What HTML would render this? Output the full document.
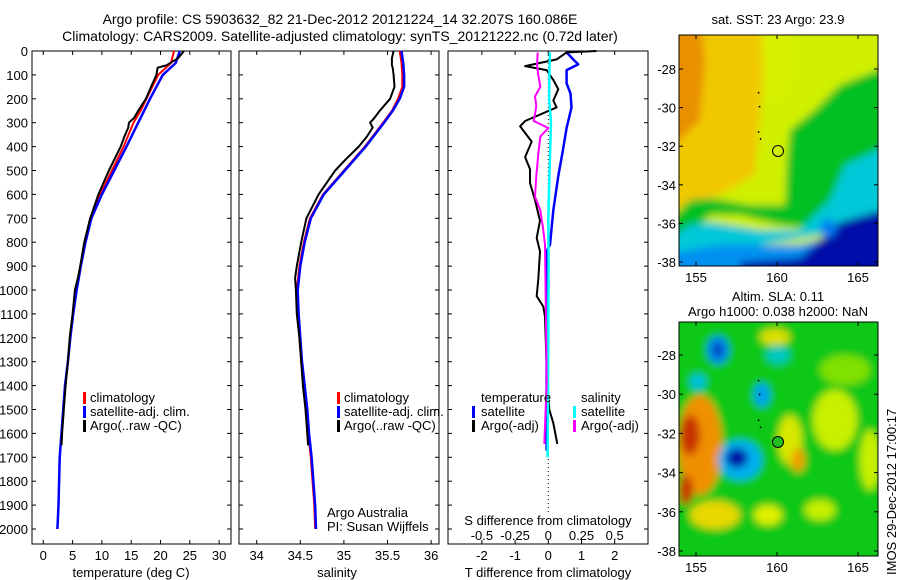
<!DOCTYPE html>
<html><head><meta charset="utf-8"><style>
body{margin:0;background:#fff}
svg{display:block;font-family:"Liberation Sans",sans-serif;font-size:13px}
</style></head><body>
<svg id="fig" width="900" height="580" viewBox="0 0 900 580">
<defs>
<filter id="bl" x="-20%" y="-20%" width="140%" height="140%"><feGaussianBlur stdDeviation="4"/></filter>
<clipPath id="c1"><rect x="679" y="35" width="199" height="231"/></clipPath>
<clipPath id="c2"><rect x="679" y="322" width="199" height="234"/></clipPath>
</defs>
<text x="340" y="24" text-anchor="middle" font-size="14">Argo profile: CS 5903632_82 21-Dec-2012 20121224_14 32.207S 160.086E</text>
<text x="340" y="41" text-anchor="middle" font-size="14">Climatology: CARS2009. Satellite-adjusted climatology: synTS_20121222.nc (0.72d later)</text>

<g id="p1"></g>
<g id="p2"></g>
<g id="p3"></g>

<!-- SST map -->
<g>
<text x="778" y="24" text-anchor="middle">sat. SST: 23 Argo: 23.9</text>
<g clip-path="url(#c1)"><g filter="url(#bl)">
<rect x="660" y="20" width="240" height="260" fill="#d0f000"/>
<polygon points="660,20 765,20 762,100 755,175 720,195 700,200 660,215" fill="#f0c800"/>
<polygon points="660,20 700,20 705,60 700,120 680,140 660,140" fill="#e89000"/>
<polygon points="760,20 790,20 790,80 780,100 765,95" fill="#d8f000"/>
<polygon points="790,130 815,110 840,85 878,70 900,70 900,160 860,170 840,190 820,230 780,225 740,215 710,215 690,235 660,250 660,230 690,200 710,198 750,205 785,205 787,160" fill="#00c020"/>
<polygon points="845,165 900,140 900,230 850,235 820,235 760,245 700,252 660,262 660,245 690,225 710,222 760,230 800,230 830,200" fill="#00c8d8"/>
<polygon points="660,255 720,245 800,245 850,232 900,215 900,280 660,280" fill="#0090f0"/>
<polygon points="840,222 900,205 900,280 740,280 740,262 800,258" fill="#0010a8"/>
<ellipse cx="828" cy="228" rx="8" ry="9" fill="#0080f0"/>
</g></g>
<rect x="679" y="35" width="199" height="231" fill="none" stroke="#000"/>
<circle cx="778" cy="151" r="5.5" fill="none" stroke="#000"/>
<g id="m1ax"></g>
</g>

<!-- SLA map -->
<g>
<text x="778" y="301" text-anchor="middle">Altim. SLA: 0.11</text>
<text x="778" y="316" text-anchor="middle">Argo h1000: 0.038 h2000: NaN</text>
<g clip-path="url(#c2)"><g filter="url(#bl)">
<rect x="660" y="300" width="240" height="270" fill="#10c818"/>
<ellipse cx="835" cy="420" rx="22" ry="30" fill="#c8f000"/>
<ellipse cx="845" cy="370" rx="25" ry="15" fill="#80e000"/>
<ellipse cx="790" cy="440" rx="12" ry="25" fill="#d8e800"/>
<ellipse cx="798" cy="460" rx="7" ry="12" fill="#f0a000"/>
<ellipse cx="715" cy="515" rx="25" ry="14" fill="#e8d800"/>
<ellipse cx="768" cy="515" rx="14" ry="10" fill="#e0f000"/>
<ellipse cx="820" cy="510" rx="15" ry="10" fill="#c8f000"/>
<ellipse cx="775" cy="337" rx="15" ry="8" fill="#e0e000"/>
<ellipse cx="700" cy="445" rx="22" ry="50" fill="#f09000"/>
<ellipse cx="690" cy="435" rx="10" ry="20" fill="#c83000"/>
<ellipse cx="686" cy="490" rx="7" ry="15" fill="#c83000"/>
<ellipse cx="718" cy="350" rx="11" ry="14" fill="#0080f0"/>
<ellipse cx="718" cy="350" rx="4" ry="6" fill="#0010a0"/>
<ellipse cx="698" cy="382" rx="8" ry="8" fill="#00c0e0"/>
<ellipse cx="762" cy="395" rx="8" ry="12" fill="#00a0f0"/>
<ellipse cx="778" cy="355" rx="12" ry="9" fill="#00c8c0"/>
<ellipse cx="740" cy="460" rx="22" ry="20" fill="#00b0f0"/>
<ellipse cx="737" cy="458" rx="11" ry="10" fill="#0010a8"/>
<ellipse cx="870" cy="460" rx="10" ry="30" fill="#c8f000"/>
</g></g>
<rect x="679" y="322" width="199" height="234" fill="none" stroke="#000"/>
<circle cx="778" cy="442" r="5.5" fill="#20c020" stroke="#000"/>
<g id="m2ax"></g>
</g>
<text transform="translate(896,575) rotate(-90)" font-size="13">IMOS 29-Dec-2012 17:00:17</text>
</svg>
<script>
// ---- data ----
const depthClim = [0,50,100,150,200,250,300,400,500,600,700,800,900,1000,1100,1200,1300,1400,1500,1600,1700,1800,1900,2000];
const tempClim = [22.3,21.8,19.6,18.6,17.6,16.6,15.4,13.7,11.7,9.7,8.0,7.1,6.4,5.7,5.1,4.6,4.2,3.7,3.4,3.1,2.8,2.7,2.6,2.4];
const tempSat  = [23.3,22.6,20.4,19.3,18.2,17.2,16.2,14.2,12.1,10.0,8.2,7.2,6.4,5.7,5.1,4.6,4.2,3.7,3.4,3.1,2.8,2.7,2.6,2.4];
const salClim = [35.64,35.66,35.67,35.67,35.62,35.55,35.45,35.24,35.0,34.76,34.61,34.54,34.49,34.46,34.47,34.49,34.51,34.54,34.57,34.59,34.62,34.64,34.66,34.67];
const salSat  = [35.66,35.68,35.69,35.69,35.64,35.56,35.46,35.25,35.01,34.77,34.62,34.55,34.5,34.47,34.48,34.5,34.52,34.55,34.58,34.6,34.63,34.65,34.67,34.68];
const depthArgo = [0,30,60,70,100,150,200,250,280,300,320,360,400,450,500,600,700,800,900,950,1000,1100,1200,1300,1400,1500,1600,1650];
const tempArgo = [24.0,23.0,21.0,19.5,19.3,18.4,17.5,16.2,15.5,14.6,14.5,13.8,13.2,12.2,11.2,9.4,8.0,7.0,6.3,5.9,5.4,5.0,4.5,4.2,3.8,3.5,3.2,3.1];
const salArgo = [35.57,35.55,35.55,35.56,35.57,35.58,35.53,35.41,35.35,35.3,35.33,35.26,35.17,35.03,34.9,34.71,34.57,34.51,34.46,34.44,34.45,34.46,34.49,34.51,34.53,34.56,34.58,34.59];
const depthDiff = [6,35,56,80,135,178,236,322,422,523,667,810,839,1000,1200,1400,1672];
const tDiffSat = [0.55,0.75,0.9,0.55,0.55,0.67,0.7,0.55,0.43,0.3,0.15,0.05,-0.05,-0.05,-0.05,-0.05,-0.05];
const depthTArgo = [0,6,35,63,80,121,160,207,236,293,315,379,444,494,552,624,710,782,839,954,1026,1069,1112,1241,1385,1500,1557,1644];
const tDiffArgo = [1.45,0.55,0.25,-0.7,-0.05,0.15,0.3,0.15,0.25,-0.7,-0.85,-0.5,-0.7,-0.55,-0.55,-0.4,-0.25,-0.35,-0.25,-0.3,-0.35,-0.15,-0.1,-0.07,-0.03,0.03,0.15,0.27];
const sDiffSat = [0.012,0.008,0.006,0.02,0.015,0.01,0.0,0.002,0.0,-0.002,-0.005];
const depthSSat = [6,100,200,300,400,500,700,900,1200,1500,1700];
const depthSArgo = [6,60,100,150,190,230,264,293,322,358,430,523,610,667,740,810,1098,1385,1644];
const sDiffArgo = [-0.08,-0.085,-0.075,-0.06,-0.1,-0.09,-0.1,-0.11,0.0,-0.06,-0.075,-0.09,-0.1,-0.06,-0.04,-0.025,-0.018,-0.012,-0.03];
const depthTicks = [0,100,200,300,400,500,600,700,800,900,1000,1100,1200,1300,1400,1500,1600,1700,1800,1900,2000];
const tTicks = [0,5,10,15,20,25,30];
const sTicks = [34,34.5,35,35.5,36];
const dTTicks = [-2,-1,0,1,2];
const dSTicks = [-0.5,-0.25,0,0.25,0.5];
const latTicks = [-28,-30,-32,-34,-36,-38];
const lonTicks = [155,160,165];

const NS="http://www.w3.org/2000/svg";
function mk(parent,tag,attrs){const e=document.createElementNS(NS,tag);for(const k in attrs)e.setAttribute(k,attrs[k]);parent.appendChild(e);return e;}
const Y0=51, Y1=544;
const yD = d => Y0 + d*0.239;
function line(g,xs,ys,fx,color,w,name){
  const pts=xs.map((v,i)=>fx(v).toFixed(1)+","+yD(ys[i]).toFixed(1)).join(" ");
  const p=mk(g,"polyline",{points:pts,fill:"none",stroke:color,"stroke-width":w,"stroke-linejoin":"round"});
  
  
  return p;
}
function frame(g,x0,x1,name){
  const r=mk(g,"rect",{x:x0,y:Y0,width:x1-x0,height:Y1-Y0,fill:"none",stroke:"#000"});
  
  
  depthTicks.forEach(d=>{mk(g,"line",{x1:x0,x2:x0+4,y1:yD(d),y2:yD(d),stroke:"#000"});mk(g,"line",{x1:x1,x2:x1-4,y1:yD(d),y2:yD(d),stroke:"#000"});});
}
function xticks(g,ticks,fx,ylab,name){
  ticks.forEach(t=>{const x=fx(t);mk(g,"line",{x1:x,x2:x,y1:Y1,y2:Y1-4,stroke:"#000"});mk(g,"line",{x1:x,x2:x,y1:Y0,y2:Y0+4,stroke:"#000"});
    const tx=mk(g,"text",{x:x,y:ylab,"text-anchor":"middle"});tx.textContent=String(t);
    
    });
}
function lab(g,x,y,txt,name,anchor){const t=mk(g,"text",{x:x,y:y,"text-anchor":anchor||"start"});t.textContent=txt;
  
  return t;}
function legMark(g,x,y,c){mk(g,"rect",{x:x,y:y-10,width:3,height:12,fill:c});}

// Panel 1
const p1=document.getElementById("p1");
const fT=v=>43.3+v*5.86;
frame(p1,32,231,"temperature-frame");
depthTicks.forEach(d=>{lab(p1,28,yD(d)+5,String(d),"depth-tick-label","end");});
xticks(p1,tTicks,fT,560,"temperature-tick-label");
lab(p1,131,577,"temperature (deg C)","x-axis-title-temperature","middle");
line(p1,tempClim,depthClim,fT,"#f00",2,"temp-climatology-line");
line(p1,tempSat,depthClim,fT,"#00f",2.5,"temp-satellite-line");
line(p1,tempArgo,depthArgo,fT,"#000",2,"temp-argo-line");
legMark(p1,83,402,"#f00");lab(p1,90,402,"climatology","legend-climatology");
legMark(p1,83,416,"#00f");lab(p1,90,416,"satellite-adj. clim.","legend-satellite");
legMark(p1,83,430,"#000");lab(p1,90,430,"Argo(..raw -QC)","legend-argo");

// Panel 2
const p2=document.getElementById("p2");
const fS=v=>256.7+(v-34)*87.2;
frame(p2,239,439,"salinity-frame");
xticks(p2,sTicks,fS,560,"salinity-tick-label");
lab(p2,337,577,"salinity","x-axis-title-salinity","middle");
line(p2,salClim,depthClim,fS,"#f00",2,"sal-climatology-line");
line(p2,salSat,depthClim,fS,"#00f",2.5,"sal-satellite-line");
line(p2,salArgo,depthArgo,fS,"#000",2,"sal-argo-line");
legMark(p2,337,402,"#f00");lab(p2,344,402,"climatology","legend-climatology");
legMark(p2,337,416,"#00f");lab(p2,344,416,"satellite-adj. clim.","legend-satellite");
legMark(p2,337,430,"#000");lab(p2,344,430,"Argo(..raw -QC)","legend-argo");
lab(p2,327,517,"Argo Australia","credit-argo-australia");
lab(p2,327,531,"PI: Susan Wijffels","credit-pi");

// Panel 3
const p3=document.getElementById("p3");
const fDT=v=>548.3+v*33.2;
const fDS=v=>548.3+v*132.8;
frame(p3,448,648,"difference-frame");
xticks(p3,dTTicks,fDT,560,"t-diff-tick-label");
dSTicks.forEach(t=>{lab(p3,fDS(t),540,String(t),"s-diff-tick-label","middle");});
lab(p3,548,525,"S difference from climatology","s-diff-axis-title","middle");
lab(p3,548,577,"T difference from climatology","t-diff-axis-title","middle");
mk(p3,"line",{x1:fDT(0),x2:fDT(0),y1:Y0,y2:Y1-30,stroke:"#000","stroke-dasharray":"1,3"});
line(p3,tDiffSat,depthDiff,fDT,"#00f",2.5,"tdiff-satellite-line");
line(p3,tDiffArgo,depthTArgo,fDT,"#000",2,"tdiff-argo-line");
line(p3,sDiffSat,depthSSat,fDS,"#0ff",2.5,"sdiff-satellite-line");
line(p3,sDiffArgo,depthSArgo,fDS,"#f0f",2,"sdiff-argo-line");
lab(p3,481,402,"temperature","legend-temperature-header");
legMark(p3,472,416,"#00f");lab(p3,481,416,"satellite","legend-t-satellite");
legMark(p3,472,430,"#000");lab(p3,481,430,"Argo(-adj)","legend-t-argo");
lab(p3,581,402,"salinity","legend-salinity-header");
legMark(p3,573,416,"#0ff");lab(p3,581,416,"satellite","legend-s-satellite");
legMark(p3,573,430,"#f0f");lab(p3,581,430,"Argo(-adj)","legend-s-argo");

// map axes
function mapAx(id,x0,x1,y0,y1,lat28,lat38){
  const g=document.getElementById(id);
  const fy=l=>lat28+(l+28)/(-10)*(lat38-lat28);
  const fx=l=>696+(l-155)*16.2;
  latTicks.forEach(l=>{const y=fy(l);mk(g,"line",{x1:x0,x2:x0+4,y1:y,y2:y,stroke:"#000"});mk(g,"line",{x1:x1,x2:x1-4,y1:y,y2:y,stroke:"#000"});
    lab(g,x0-3,y+5,String(l),"latitude-tick-label","end");});
  lonTicks.forEach(l=>{const x=fx(l);mk(g,"line",{x1:x,x2:x,y1:y0,y2:y0+4,stroke:"#000"});mk(g,"line",{x1:x,x2:x,y1:y1,y2:y1-4,stroke:"#000"});
    lab(g,x,y1+16,String(l),"longitude-tick-label","middle");});
  [[0.4,0.25],[0.405,0.31],[0.4,0.42],[0.41,0.45]].forEach(p=>mk(g,"circle",{cx:x0+(x1-x0)*p[0],cy:y0+(y1-y0)*p[1],r:0.9,fill:"#000"}));
}
mapAx("m1ax",679,878,35,266,69,262);
mapAx("m2ax",679,878,322,556,355,551);
</script>
</body></html>
